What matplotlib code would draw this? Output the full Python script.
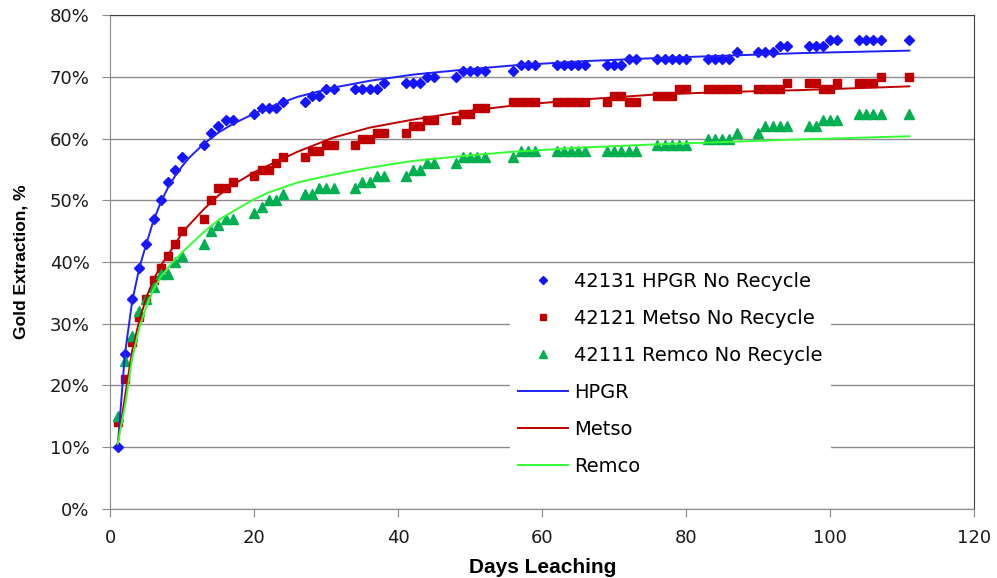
import matplotlib
matplotlib.use("Agg")
import matplotlib.pyplot as plt
from matplotlib.ticker import PercentFormatter

# sampling days (weekday pattern), shared by all three tests
days = [1, 2, 3, 4, 5, 6, 7, 8, 9, 10,
        13, 14, 15, 16, 17, 20, 21, 22, 23, 24,
        27, 28, 29, 30, 31, 34, 35, 36, 37, 38,
        41, 42, 43, 44, 45, 48, 49, 50, 51, 52,
        56, 57, 58, 59, 62, 63, 64, 65, 66,
        69, 70, 71, 72, 73, 76, 77, 78, 79, 80,
        83, 84, 85, 86, 87, 90, 91, 92, 93, 94,
        97, 98, 99, 100, 101, 104, 105, 106, 107, 111]

hpgr_pts = [10, 25, 34, 39, 43, 47, 50, 53, 55, 57,
            59, 61, 62, 63, 63, 64, 65, 65, 65, 66,
            66, 67, 67, 68, 68, 68, 68, 68, 68, 69,
            69, 69, 69, 70, 70, 70, 71, 71, 71, 71,
            71, 72, 72, 72, 72, 72, 72, 72, 72,
            72, 72, 72, 73, 73, 73, 73, 73, 73, 73,
            73, 73, 73, 73, 74, 74, 74, 74, 75, 75,
            75, 75, 75, 76, 76, 76, 76, 76, 76, 76]

metso_pts = [14, 21, 27, 31, 34, 37, 39, 41, 43, 45,
             47, 50, 52, 52, 53, 54, 55, 55, 56, 57,
             57, 58, 58, 59, 59, 59, 60, 60, 61, 61,
             61, 62, 62, 63, 63, 63, 64, 64, 65, 65,
             66, 66, 66, 66, 66, 66, 66, 66, 66,
             66, 67, 67, 66, 66, 67, 67, 67, 68, 68,
             68, 68, 68, 68, 68, 68, 68, 68, 68, 69,
             69, 69, 68, 68, 69, 69, 69, 69, 70, 70]

remco_pts = [15, 24, 28, 32, 34, 36, 38, 38, 40, 41,
             43, 45, 46, 47, 47, 48, 49, 50, 50, 51,
             51, 51, 52, 52, 52, 52, 53, 53, 54, 54,
             54, 55, 55, 56, 56, 56, 57, 57, 57, 57,
             57, 58, 58, 58, 58, 58, 58, 58, 58,
             58, 58, 58, 58, 58, 59, 59, 59, 59, 59,
             60, 60, 60, 60, 61, 61, 62, 62, 62, 62,
             62, 62, 63, 63, 63, 64, 64, 64, 64, 64]

# fitted curves
fit_days = [1, 2, 3, 4, 5, 6, 7, 8, 9, 10, 11, 13, 15, 17, 20, 22,
            26, 31, 36, 42, 49, 56, 66, 76, 86, 96, 111]
hpgr_fit = [10, 25, 33.5, 39, 43, 46.8, 49.7, 52.1, 54, 55.6, 57, 59.2,
            61, 62.4, 64.1, 65.1, 66.8, 68.3, 69.4, 70.4, 71.2, 71.9,
            72.6, 73.1, 73.5, 73.9, 74.3]
metso_fit = [10.5, 18, 25.5, 30.5, 34.3, 37.2, 39.4, 41.2, 42.9, 44.8,
             46.1, 48.6, 50.8, 52.5, 54.6, 55.7, 57.9, 60.2, 61.8, 63.1,
             64.4, 65.4, 66.4, 67.2, 67.6, 67.9, 68.5]
remco_fit = [10.5, 16.5, 24.2, 29.3, 32.8, 35.6, 37.6, 39.1, 40.4, 41.6,
             42.7, 44.9, 46.8, 48.2, 50.2, 51.3, 52.9, 54.2, 55.3, 56.4,
             57.2, 57.9, 58.6, 59.1, 59.5, 59.9, 60.4]

fig = plt.figure(figsize=(9.97, 5.78), dpi=100)
ax = fig.add_axes([0.1108, 0.1202, 0.8662, 0.853])

ax.plot(days, hpgr_pts, 'D', color='#1414FF', ms=4.8, mec='#1414FF',
        label='42131 HPGR No Recycle', zorder=3)
ax.plot(days, metso_pts, 's', color='#C00000', ms=5.2, mec='#C00000',
        label='42121 Metso No Recycle', zorder=3)
ax.plot(days, remco_pts, '^', color='#00B050', ms=6.6, mec='#00B050',
        label='42111 Remco No Recycle', zorder=3)
ax.plot(fit_days, hpgr_fit, '-', color='#2020FF', lw=1.4, label='HPGR', zorder=4)
ax.plot(fit_days, metso_fit, '-', color='#C00000', lw=1.4, label='Metso', zorder=4)
ax.plot(fit_days, remco_fit, '-', color='#33FF33', lw=1.4, label='Remco', zorder=4)

ax.set_xlim(0, 120)
ax.set_ylim(0, 80)
ax.set_xticks(range(0, 121, 20))
ax.set_yticks(range(0, 81, 10))
ax.yaxis.set_major_formatter(PercentFormatter(decimals=0))
ax.grid(axis='y', color='#8C8C8C', lw=1)
ax.set_axisbelow(True)

for s in ['left', 'bottom']:
    ax.spines[s].set_color('#8C8C8C')
for s in ['top', 'right']:
    ax.spines[s].set_color('#404040')
ax.tick_params(direction='out', length=6, color='#8C8C8C', labelsize=13,
               labelcolor='#1a1a1a')
ax.tick_params(axis='y', pad=9)
ax.tick_params(axis='x', pad=9)

ax.set_xlabel('Days Leaching', fontsize=15, fontweight='bold',
              family='Liberation Sans', labelpad=8)
ax.set_ylabel('Gold Extraction, %', fontsize=12.5, fontweight='bold',
              family='Liberation Sans', labelpad=15)

leg = ax.legend(loc='upper left', bbox_to_anchor=(0.4627, 0.496),
                frameon=True, fontsize=14, handlelength=2.6,
                labelspacing=0.93, borderpad=0.4, handletextpad=0.3,
                markerscale=0.8, borderaxespad=0)
leg.get_frame().set_edgecolor('none')
leg.get_frame().set_facecolor('white')
leg.get_frame().set_alpha(1)

fig.savefig('out.png', dpi=100)
